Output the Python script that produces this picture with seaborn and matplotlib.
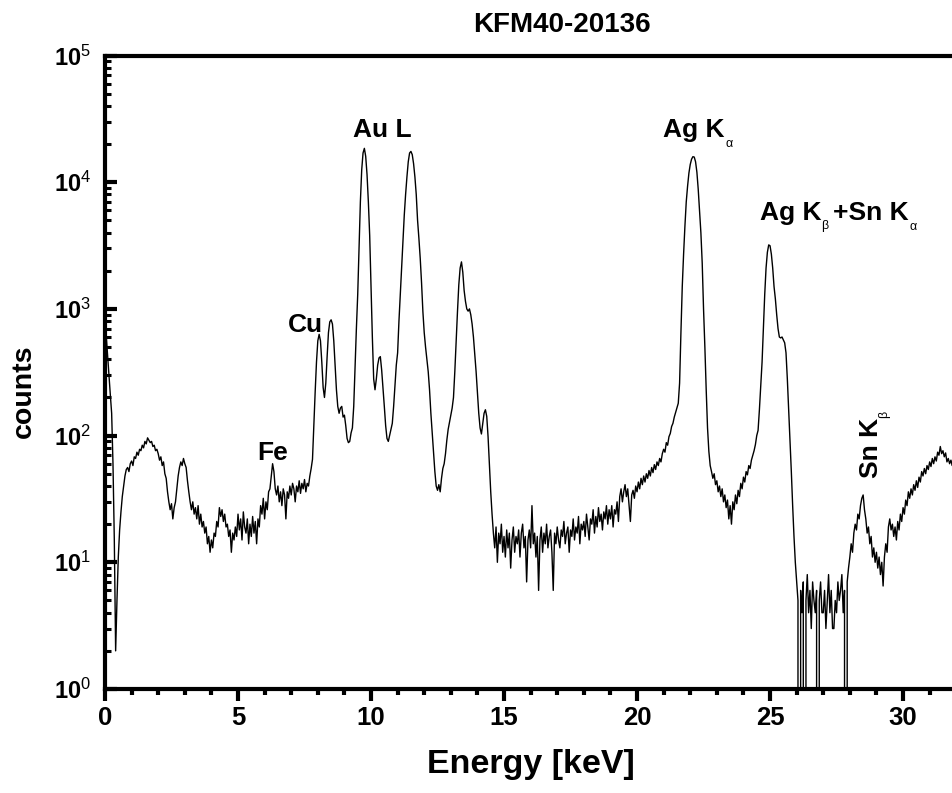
import numpy as np
import pandas as pd
import matplotlib
matplotlib.use("Agg")
import matplotlib.pyplot as plt
import seaborn as sns
from matplotlib.ticker import MultipleLocator, LogLocator, FuncFormatter, NullFormatter, FixedLocator

# ---------------- data ----------------
channel_kev = 0.05  # energy width of one channel

counts_00_04 = [
    800, 600, 420, 300, 210, 150, 60, 15, 2, 5, 11, 18, 25, 33, 40, 48, 54, 56, 52, 60,
    63, 58, 68, 66, 74, 70, 78, 76, 84, 80, 90, 86, 96, 92, 88, 90, 82, 84, 76, 78,
    72, 64, 68, 58, 62, 50, 46, 36, 30, 26, 29, 22, 27, 30, 38, 48, 56, 62, 58, 66,
    60, 56, 44, 36, 30, 26, 30, 24, 27, 22, 28, 20, 24, 19, 21, 17, 19, 14, 16, 12,
]
counts_04_08 = [
    15, 13, 17, 16, 21, 19, 27, 23, 26, 21, 24, 19, 20, 16, 18, 12, 17, 15, 19, 16,
    24, 18, 22, 15, 25, 19, 17, 22, 14, 20, 16, 23, 17, 21, 14, 22, 19, 28, 24, 32,
    22, 30, 26, 36, 38, 48, 60, 52, 38, 34, 40, 30, 36, 28, 38, 34, 22, 36, 32, 40,
    34, 42, 38, 30, 40, 36, 44, 35, 42, 38, 45, 36, 42, 40, 48, 55, 65, 120, 220, 380,
]
counts_08_12 = [
    560, 630, 560, 380, 240, 200, 260, 420, 650, 790, 820, 760, 560, 360, 230, 170, 150, 165, 170, 140,
    145, 120, 95, 88, 90, 105, 115, 170, 350, 700, 1300, 3000, 7000, 12500, 17000, 18500, 16000, 11500, 7000, 3800,
    1500, 600, 280, 230, 280, 360, 410, 420, 330, 240, 170, 120, 95, 90, 100, 112, 125, 170, 250, 360,
    450, 800, 1300, 2200, 3500, 5500, 8000, 11000, 14500, 17000, 17500, 16500, 14000, 11000, 8000, 5000, 3600, 2500, 1600, 950,
]
counts_12_16 = [
    650, 500, 400, 320, 230, 150, 105, 72, 52, 40, 37, 41, 36, 46, 55, 60, 72, 92, 112, 128,
    145, 165, 200, 320, 560, 950, 1550, 2100, 2350, 1950, 1400, 1150, 1000, 960, 1000, 900, 760, 600, 440, 320,
    220, 150, 115, 103, 125, 150, 160, 142, 98, 60, 36, 24, 17, 13, 19, 10, 17, 14, 20, 12,
    16, 11, 18, 13, 17, 9, 15, 19, 12, 16, 14, 18, 11, 17, 20, 13, 16, 7, 15, 18,
]
counts_16_20 = [
    13, 28, 14, 17, 11, 16, 6, 15, 19, 12, 17, 14, 20, 13, 16, 18, 12, 6, 17, 14,
    19, 15, 13, 18, 16, 21, 14, 17, 19, 12, 18, 16, 22, 15, 19, 17, 23, 14, 20, 18,
    21, 16, 24, 19, 15, 22, 20, 26, 17, 23, 19, 27, 21, 24, 18, 25, 22, 28, 20, 26,
    22, 28, 19, 26, 24, 30, 21, 33, 38, 30, 36, 41, 33, 38, 28, 21, 34, 37, 32, 40,
]
counts_20_24 = [
    36, 43, 38, 46, 41, 48, 43, 50, 46, 53, 48, 56, 51, 59, 54, 62, 58, 66, 62, 72,
    78, 74, 88, 84, 98, 104, 118, 125, 140, 152, 165, 180, 260, 650, 1500, 2700, 4500, 7000, 9300, 11800,
    13800, 15200, 15900, 15800, 14500, 12000, 8800, 6000, 4000, 2300, 1000, 500, 230, 115, 75, 58, 52, 46, 50, 41,
    44, 36, 40, 33, 38, 30, 34, 27, 31, 22, 28, 20, 30, 26, 34, 29, 37, 33, 42, 38,
]
counts_24_28 = [
    47, 43, 52, 49, 58, 55, 64, 70, 76, 85, 100, 110, 160, 250, 380, 700, 1300, 2100, 2800, 3200,
    3150, 2700, 2100, 1500, 1200, 900, 700, 600, 590, 600, 570, 540, 450, 280, 160, 95, 52, 28, 16, 10,
    7, 5, 0, 6, 4, 7, 0, 5, 8, 4, 6, 3, 7, 5, 4, 6, 0, 5, 7, 4,
    4, 6, 3, 5, 8, 4, 6, 3, 3, 5, 4, 7, 5, 6, 8, 4, 6, 0, 7, 9,
]
counts_28_32 = [
    11, 14, 12, 17, 20, 18, 24, 22, 28, 32, 34, 26, 22, 17, 19, 14, 16, 11, 13, 10,
    12, 9, 11, 8, 10, 6.5, 11, 14, 12, 19, 22, 18, 20, 16, 19, 15, 21, 18, 24, 21,
    27, 24, 31, 28, 36, 32, 38, 34, 41, 37, 44, 39, 47, 43, 52, 48, 55, 50, 58, 54,
    62, 57, 66, 60, 68, 63, 74, 70, 82, 72, 76, 68, 73, 62, 66, 60, 64, 58, 62, 56,
]

title = "KFM40-20136"
x_label = "Energy [keV]"
y_label = "counts"
x_ticks = [0, 5, 10, 15, 20, 25, 30]
y_exponents = [0, 1, 2, 3, 4, 5]

counts = np.array(counts_00_04 + counts_04_08 + counts_08_12 + counts_12_16
                  + counts_16_20 + counts_20_24 + counts_24_28 + counts_28_32, dtype=float)
energy = np.arange(len(counts)) * channel_kev
df = pd.DataFrame({"energy": energy, "counts": counts})

# ---------------- style ----------------
sns.set_theme(style="white")
plt.rcParams["font.family"] = ["Liberation Sans", "DejaVu Sans"]
plt.rcParams["mathtext.fontset"] = "custom"
plt.rcParams["mathtext.rm"] = "Liberation Sans"
plt.rcParams["mathtext.bf"] = "Liberation Sans:bold"
plt.rcParams["mathtext.it"] = "Liberation Sans:italic"

W, H = 952, 793
fig = plt.figure(figsize=(W / 100, H / 100), dpi=100)
ax = fig.add_axes([105 / W, 1 - 689 / H, 1 - 105 / W, (689 - 55.5) / H])

sns.lineplot(data=df, x="energy", y="counts", ax=ax, color="black",
             linewidth=1.0, estimator=None, sort=False, legend=False)
ax.set_yscale("log")
ax.set_xlim(0, 31.84)
ax.set_ylim(1, 1e5)

for side in ["top", "left", "bottom"]:
    ax.spines[side].set_linewidth(3)
    ax.spines[side].set_color("black")
ax.spines["right"].set_visible(False)

ax.xaxis.set_major_locator(FixedLocator(x_ticks))
ax.xaxis.set_minor_locator(MultipleLocator(1))
ax.xaxis.set_major_formatter(FuncFormatter(lambda v, p: f"{int(v)}"))
ax.yaxis.set_major_locator(FixedLocator([10.0 ** e for e in y_exponents]))
ax.yaxis.set_minor_locator(LogLocator(base=10, subs=np.arange(2, 10)))
ax.yaxis.set_minor_formatter(NullFormatter())
ax.yaxis.set_major_formatter(FuncFormatter(
    lambda v, p: r"$\mathbf{10}^{\mathrm{%d}}$" % int(round(np.log10(v)))))

ax.tick_params(axis="x", which="major", direction="out", length=8.5, width=3,
               color="black", labelcolor="black", labelsize=18.5, pad=4,
               bottom=True, top=False)
ax.tick_params(axis="x", which="minor", direction="out", length=4.5, width=3,
               color="black", bottom=True, top=False)
ax.tick_params(axis="y", which="major", direction="in", length=8.5, width=3,
               color="black", labelcolor="black", labelsize=17, pad=10,
               left=True, right=False)
ax.tick_params(axis="y", which="minor", direction="in", length=4, width=2.2,
               color="black", left=True, right=False)
for lab in ax.get_xticklabels():
    lab.set_fontweight("bold")
ax.set_xlabel("")
ax.set_ylabel("")


def ftext(x, y, s, **kw):
    kw.setdefault("fontweight", "bold")
    return fig.text(x / W, 1 - y / H, s, color="black", **kw)


ftext(562, 32, title, fontsize=20, ha="center", va="baseline")
ftext(531, 773, x_label, fontsize=24.5, ha="center", va="baseline")
ftext(24, 391, y_label, fontsize=20.5, ha="center", va="center", rotation=90)

# peak labels
ftext(353, 137, "Au L", fontsize=19, ha="left", va="baseline")
ftext(288, 332, "Cu", fontsize=19, ha="left", va="baseline")
ftext(257, 460, "Fe", fontsize=19, ha="left", va="baseline")
ftext(663, 137, "Ag K", fontsize=19, ha="left", va="baseline")
ftext(725, 147, "α", fontsize=9, fontweight="normal", ha="left", va="baseline")
ftext(760, 220, "Ag K", fontsize=19, ha="left", va="baseline")
ftext(821, 229, "β", fontsize=9, fontweight="normal", ha="left", va="baseline")
ftext(833, 220, "+Sn K", fontsize=19, ha="left", va="baseline")
ftext(910, 230, "α", fontsize=9, fontweight="normal", ha="left", va="baseline")
ftext(878, 478, "Sn K", fontsize=19, ha="left", va="baseline", rotation=90,
      rotation_mode="anchor")
ftext(887, 418, "β", fontsize=9, fontweight="normal", ha="left", va="baseline",
      rotation=90, rotation_mode="anchor")

fig.savefig("out.png", dpi=100)
